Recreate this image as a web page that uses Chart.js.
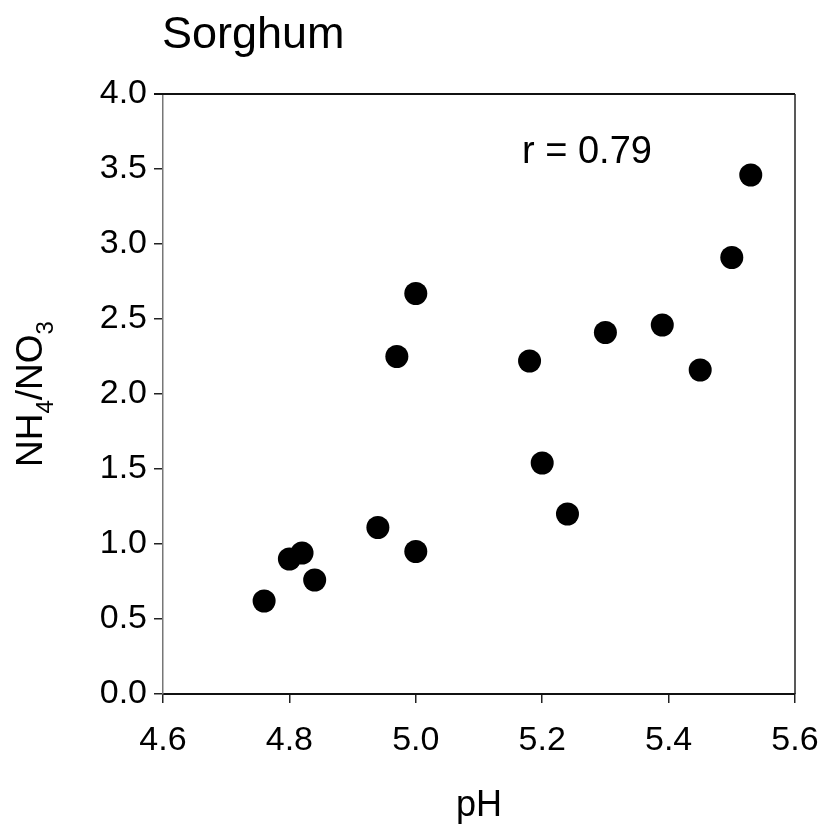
<!DOCTYPE html>
<html>
<head>
<meta charset="utf-8">
<script src="https://cdn.jsdelivr.net/npm/chart.js@4"></script>
<style>
  html, body { margin: 0; padding: 0; background: #fff; }
  #wrap { width: 824px; height: 829px; position: relative; }
</style>
</head>
<body>
<div id="wrap"><canvas id="c" width="824" height="829"></canvas></div>
<script>
// ---- data ----
const chartTitle = "Sorghum";
const annotation = "r = 0.79";
const xTitle = "pH";
const phValues = [4.76, 4.80, 4.82, 4.84, 4.94, 5.00, 4.97, 5.00, 5.18, 5.20, 5.24, 5.30, 5.39, 5.45, 5.50, 5.53];
const ratioValues = [0.62, 0.90, 0.94, 0.76, 1.11, 0.95, 2.25, 2.67, 2.22, 1.54, 1.20, 2.41, 2.46, 2.16, 2.91, 3.46];
const xRange = [4.6, 5.6];
const yRange = [0.0, 4.0];
const xStep = 0.2;
const yStep = 0.5;

const FONT = "'Liberation Sans', Arial, sans-serif";
const points = phValues.map((x, i) => ({ x: x, y: ratioValues[i] }));

const framePlugin = {
  id: 'frameAndText',
  afterDatasetsDraw(chart) {
    const { ctx, chartArea: a } = chart;
    ctx.save();
    ctx.strokeStyle = '#111';
    ctx.lineWidth = 2;
    ctx.beginPath();
    ctx.moveTo(a.left - 9, a.top);
    ctx.lineTo(a.right, a.top);
    ctx.stroke();
    ctx.strokeStyle = '#222';
    ctx.lineWidth = 1.5;
    ctx.beginPath();
    ctx.moveTo(a.right, a.top);
    ctx.lineTo(a.right, a.bottom);
    ctx.stroke();
    ctx.restore();
  },
  afterDraw(chart) {
    const { ctx, chartArea: a, scales } = chart;
    ctx.save();
    ctx.fillStyle = '#000';
    ctx.textBaseline = 'alphabetic';
    ctx.font = `45px ${FONT}`;
    ctx.textAlign = 'left';
    ctx.fillText(chartTitle, a.left - 1, a.top - 46);
    ctx.font = `38px ${FONT}`;
    ctx.fillText(annotation, scales.x.getPixelForValue(5.168), scales.y.getPixelForValue(3.54));
    const parts = [
      { t: 'NH', sub: false }, { t: '4', sub: true },
      { t: '/NO', sub: false }, { t: '3', sub: true }
    ];
    const mainF = `37px ${FONT}`, subF = `24px ${FONT}`;
    let total = 0;
    parts.forEach(p => { ctx.font = p.sub ? subF : mainF; p.w = ctx.measureText(p.t).width; total += p.w; });
    ctx.translate(42, (a.top + a.bottom) / 2);
    ctx.rotate(-Math.PI / 2);
    let x = -total / 2;
    parts.forEach(p => {
      ctx.font = p.sub ? subF : mainF;
      ctx.fillText(p.t, x, p.sub ? 11 : 0);
      x += p.w;
    });
    ctx.restore();
  }
};

new Chart(document.getElementById('c'), {
  type: 'scatter',
  data: {
    datasets: [{
      data: points,
      backgroundColor: '#000',
      borderColor: '#000',
      borderWidth: 0,
      pointRadius: 11.5,
      pointHoverRadius: 11.5
    }]
  },
  options: {
    responsive: false,
    animation: false,
    devicePixelRatio: 1,
    layout: { padding: { left: 0, right: 29, top: 94, bottom: 0 } },
    plugins: { legend: { display: false }, tooltip: { enabled: false }, title: { display: false } },
    scales: {
      x: {
        type: 'linear',
        min: xRange[0], max: xRange[1],
        afterFit: s => { s.height = 135; s.paddingLeft = 0; s.paddingRight = 0; },
        afterBuildTicks: s => {
          const t = [];
          for (let v = xRange[0]; v <= xRange[1] + 1e-9; v += xStep) t.push({ value: +v.toFixed(2) });
          s.ticks = t;
        },
        ticks: {
          color: '#000', padding: 17, maxRotation: 0, autoSkip: false,
          font: { family: FONT, size: 34 },
          callback: v => Number(v).toFixed(1)
        },
        grid: { drawOnChartArea: false, drawTicks: true, tickLength: 9, color: '#222', lineWidth: 1.5 },
        border: { display: true, color: '#111', width: 2 },
        title: { display: true, text: xTitle, color: '#000', font: { family: FONT, size: 36, lineHeight: 1.3 }, padding: { top: 0, bottom: 0 } }
      },
      y: {
        type: 'linear',
        min: yRange[0], max: yRange[1],
        afterFit: s => { s.width = 163; s.paddingTop = 0; s.paddingBottom = 0; },
        afterBuildTicks: s => {
          const t = [];
          for (let v = yRange[0]; v <= yRange[1] + 1e-9; v += yStep) t.push({ value: +v.toFixed(2) });
          s.ticks = t;
        },
        ticks: {
          color: '#000', padding: 7, autoSkip: false,
          font: { family: FONT, size: 34 },
          callback: v => Number(v).toFixed(1)
        },
        grid: { drawOnChartArea: false, drawTicks: true, tickLength: 9, color: '#222', lineWidth: 1.5 },
        border: { display: true, color: '#777', width: 1.5 }
      }
    }
  },
  plugins: [framePlugin]
});
</script>
</body>
</html>
